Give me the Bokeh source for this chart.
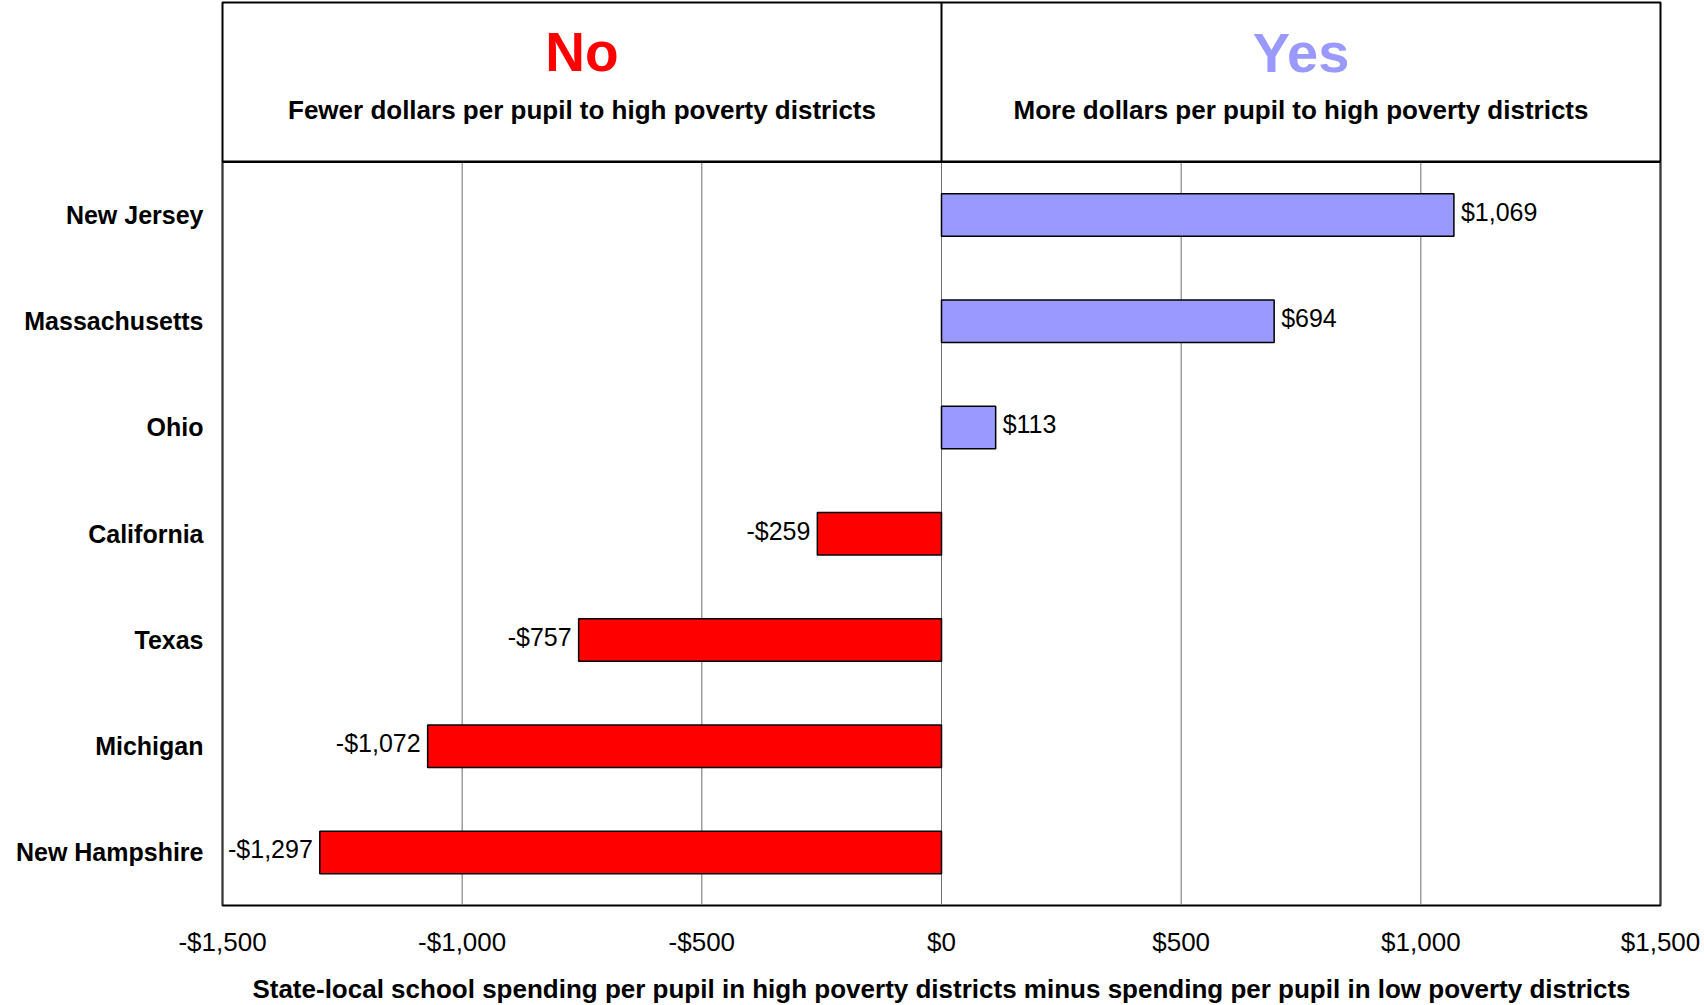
from bokeh.plotting import figure
from bokeh.models import Range1d, FixedTicker, ColumnDataSource
from bokeh.core.properties import value
from bokeh.embed import file_html
from bokeh.resources import INLINE

states = ["New Jersey", "Massachusetts", "Ohio", "California", "Texas", "Michigan", "New Hampshire"]
gaps = [1069, 694, 113, -259, -757, -1072, -1297]
x_ticks = [-1500, -1000, -500, 0, 500, 1000, 1500]
header_no = "No"
header_yes = "Yes"
sub_no = "Fewer dollars per pupil to high poverty districts"
sub_yes = "More dollars per pupil to high poverty districts"
x_title = "State-local school spending per pupil in high poverty districts minus spending per pupil in low poverty districts"

RED = "#FF0000"
BLUE = "#9999FF"
ARIAL = "'Liberation Sans', Arial, sans-serif"


def money(v):
    return ("-" if v < 0 else "") + "$" + f"{abs(v):,}"


n = len(states)
ypos = [n - 1 - i for i in range(n)]
cat_top = n - 0.5

src = ColumnDataSource(dict(
    y=ypos,
    v=gaps,
    color=[BLUE if g > 0 else RED for g in gaps],
    label=[money(g) for g in gaps],
    align=["left" if g > 0 else "right" for g in gaps],
    xoff=[7 if g > 0 else -7 for g in gaps],
))

p = figure(frame_width=1438, frame_height=903, output_backend="svg", toolbar_location=None,
           x_range=Range1d(x_ticks[0], x_ticks[-1]), y_range=Range1d(-0.5, cat_top + 1.5),
           min_border_left=222, min_border_right=44, min_border_top=2, min_border_bottom=96)
p.background_fill_color = "white"
p.border_fill_color = "white"
p.outline_line_color = "black"
p.outline_line_width = 2
p.xgrid.visible = False
p.ygrid.visible = False

# gridlines in the category region
p.segment(x0=x_ticks, x1=x_ticks, y0=[-0.5] * len(x_ticks), y1=[cat_top] * len(x_ticks),
          line_color="#6e6e6e", line_width=1)
# header divider and header bottom line
p.segment(x0=[0], x1=[0], y0=[cat_top], y1=[cat_top + 1.5], line_color="black", line_width=2)
p.segment(x0=[x_ticks[0]], x1=[x_ticks[-1]], y0=[cat_top], y1=[cat_top], line_color="black", line_width=2.5)

p.hbar(y="y", left=0, right="v", height=0.4, fill_color="color", line_color="black",
       line_width=1.5, source=src)

p.text(x="v", y="y", text="label", text_align="align", text_baseline="middle",
       x_offset="xoff", y_offset=-3, text_font=value(ARIAL), text_font_size="25px",
       text_color="black", source=src)

# header texts
hx = [(x_ticks[0] + 0) / 2, (0 + x_ticks[-1]) / 2]
p.text(x=[hx[0]], y=[cat_top + 1.03], text=[header_no], text_align="center", text_baseline="middle",
       text_font=value(ARIAL), text_font_style="bold", text_font_size="55px", text_color=RED)
p.text(x=[hx[1]], y=[cat_top + 1.03], text=[header_yes], text_align="center", text_baseline="middle",
       text_font=value(ARIAL), text_font_style="bold", text_font_size="56px", text_color=BLUE)
p.text(x=[hx[0]], y=[cat_top + 0.49], text=[sub_no], text_align="center", text_baseline="middle",
       text_font=value(ARIAL), text_font_style="bold", text_font_size="26px", text_color="black")
p.text(x=[hx[1]], y=[cat_top + 0.49], text=[sub_yes], text_align="center", text_baseline="middle",
       text_font=value(ARIAL), text_font_style="bold", text_font_size="26px", text_color="black")

# x axis
xa = p.xaxis[0]
xa.ticker = FixedTicker(ticks=x_ticks)
xa.major_label_overrides = {t: money(t) for t in x_ticks}
xa.axis_line_color = None
xa.major_tick_line_color = None
xa.minor_tick_line_color = None
xa.major_tick_in = 0
xa.major_tick_out = 0
xa.minor_tick_in = 0
xa.minor_tick_out = 0
xa.major_label_standoff = 21
xa.major_label_text_font = ARIAL
xa.major_label_text_font_size = "26px"
xa.major_label_text_color = "black"
xa.axis_label = x_title
xa.axis_label_text_font = ARIAL
xa.axis_label_text_font_style = "bold"
xa.axis_label_text_font_size = "26px"
xa.axis_label_text_color = "black"
xa.axis_label_standoff = 14

# y axis
ya = p.yaxis[0]
ya.ticker = FixedTicker(ticks=ypos)
ya.major_label_overrides = {y: s for y, s in zip(ypos, states)}
ya.axis_line_color = None
ya.major_tick_line_color = None
ya.minor_tick_line_color = None
ya.major_tick_in = 0
ya.major_tick_out = 0
ya.minor_tick_in = 0
ya.minor_tick_out = 0
ya.major_label_standoff = 19
ya.major_label_text_font = ARIAL
ya.major_label_text_font_style = "bold"
ya.major_label_text_font_size = "25px"
ya.major_label_text_color = "black"

open("out.html", "w").write(file_html(p, INLINE))
